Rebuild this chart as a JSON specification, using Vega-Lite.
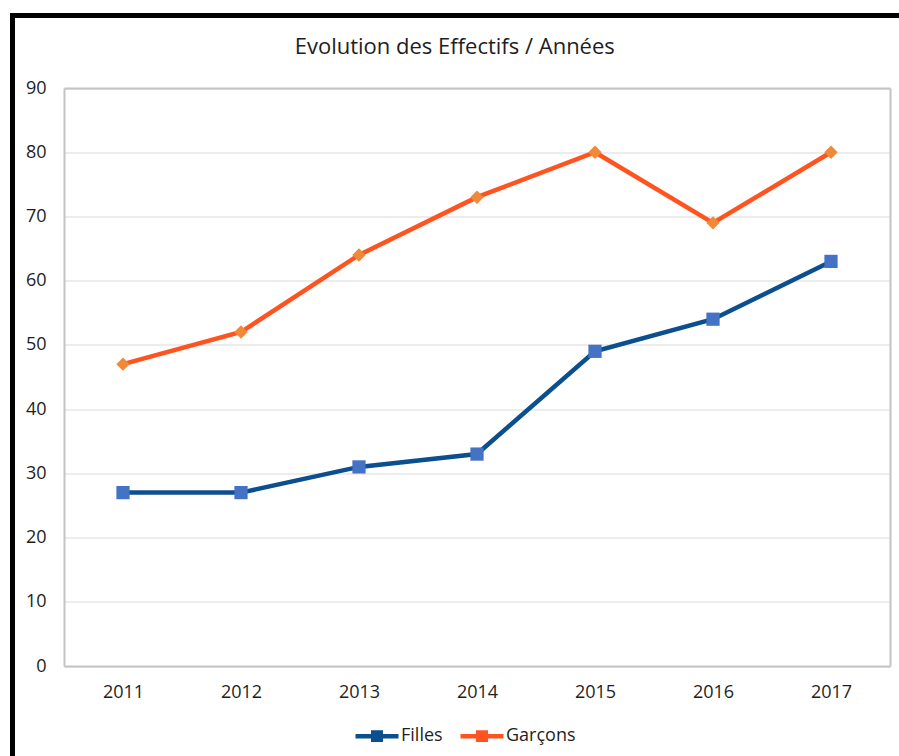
{
  "$schema": "https://vega.github.io/schema/vega-lite/v6.json",
  "autosize": "none",
  "width": 892.5,
  "height": 746.5,
  "padding": {"left": 12.5, "top": 15.5, "right": -6, "bottom": -6},
  "background": "white",
  "title": {
    "text": "Evolution des Effectifs / Années",
    "font": "Open Sans",
    "fontSize": 22,
    "fontWeight": "normal",
    "color": "#1e1e1e",
    "anchor": "middle",
    "frame": "group",
    "dx": -4,
    "offset": -60.5,
    "baseline": "alphabetic"
  },
  "data": {
    "values": [
      {"annee": "2011", "serie": "Filles", "effectif": 27},
      {"annee": "2012", "serie": "Filles", "effectif": 27},
      {"annee": "2013", "serie": "Filles", "effectif": 31},
      {"annee": "2014", "serie": "Filles", "effectif": 33},
      {"annee": "2015", "serie": "Filles", "effectif": 49},
      {"annee": "2016", "serie": "Filles", "effectif": 54},
      {"annee": "2017", "serie": "Filles", "effectif": 63},
      {"annee": "2011", "serie": "Garçons", "effectif": 47},
      {"annee": "2012", "serie": "Garçons", "effectif": 52},
      {"annee": "2013", "serie": "Garçons", "effectif": 64},
      {"annee": "2014", "serie": "Garçons", "effectif": 73},
      {"annee": "2015", "serie": "Garçons", "effectif": 80},
      {"annee": "2016", "serie": "Garçons", "effectif": 69},
      {"annee": "2017", "serie": "Garçons", "effectif": 80}
    ]
  },
  "layer": [
    {
      "mark": {"type": "line", "strokeWidth": 4.5},
      "encoding": {
        "x": {
          "field": "annee",
          "type": "ordinal",
          "scale": {"type": "point", "padding": 0.5, "range": [51.5, 877.5]},
          "axis": {
            "orient": "bottom",
            "offset": -96,
            "title": null,
            "labelAngle": 0,
            "ticks": false,
            "domain": true,
            "domainColor": "#c4c4c4",
            "domainWidth": 2,
            "grid": false,
            "labelPadding": 17,
            "labelFont": "Open Sans",
            "labelFontSize": 18,
            "labelColor": "#1e1e1e"
          }
        },
        "y": {
          "field": "effectif",
          "type": "quantitative",
          "scale": {"domain": [0, 90], "nice": false, "range": [650.5, 72.5]},
          "axis": {
            "orient": "left",
            "offset": -51.5,
            "title": null,
            "values": [0, 10, 20, 30, 40, 50, 60, 70, 80, 90],
            "ticks": false,
            "domain": true,
            "domainColor": "#c4c4c4",
            "domainWidth": 2,
            "grid": true,
            "gridColor": "#d9d9d9",
            "gridWidth": 1.2,
            "labelPadding": 18,
            "labelFont": "Open Sans",
            "labelFontSize": 18,
            "labelColor": "#1e1e1e"
          }
        },
        "color": {
          "field": "serie",
          "type": "nominal",
          "scale": {"domain": ["Filles", "Garçons"], "range": ["#0B4F8E", "#FF5320"]},
          "legend": {
            "title": null,
            "orient": "none",
            "legendX": 340.5,
            "legendY": 696.5,
            "direction": "horizontal",
            "padding": 0,
            "symbolType": "M-1,0H1M-0.174,-0.174H0.174V0.174H-0.174Z",
            "symbolSize": 1849,
            "symbolStrokeWidth": 4.5,
            "symbolOpacity": 1,
            "labelFont": "Open Sans",
            "labelFontSize": 18,
            "labelColor": "#1e1e1e",
            "labelOffset": 0,
            "columnPadding": 8
          }
        }
      }
    },
    {
      "transform": [{"filter": "datum.serie == 'Filles'"}],
      "mark": {"type": "point", "filled": true, "shape": "square", "size": 175, "color": "#4472C4", "opacity": 1, "strokeWidth": 0},
      "encoding": {
        "x": {
          "field": "annee",
          "type": "ordinal",
          "axis": {
            "orient": "top",
            "offset": -72.5,
            "title": null,
            "labels": false,
            "ticks": false,
            "grid": false,
            "domain": true,
            "domainColor": "#c4c4c4",
            "domainWidth": 2
          }
        },
        "y": {
          "field": "effectif",
          "type": "quantitative",
          "axis": {
            "orient": "right",
            "offset": -15,
            "title": null,
            "labels": false,
            "ticks": false,
            "grid": false,
            "domain": true,
            "domainColor": "#c4c4c4",
            "domainWidth": 2
          }
        }
      }
    },
    {
      "transform": [{"filter": "datum.serie == 'Garçons'"}],
      "mark": {"type": "point", "filled": true, "shape": "diamond", "size": 180, "color": "#F08A38", "opacity": 1, "strokeWidth": 0},
      "encoding": {
        "x": {"field": "annee", "type": "ordinal", "axis": null},
        "y": {"field": "effectif", "type": "quantitative", "axis": null}
      }
    }
  ],
  "resolve": {"axis": {"x": "independent", "y": "independent"}},
  "config": {
    "view": {"stroke": "black", "strokeWidth": 5}
  }
}
